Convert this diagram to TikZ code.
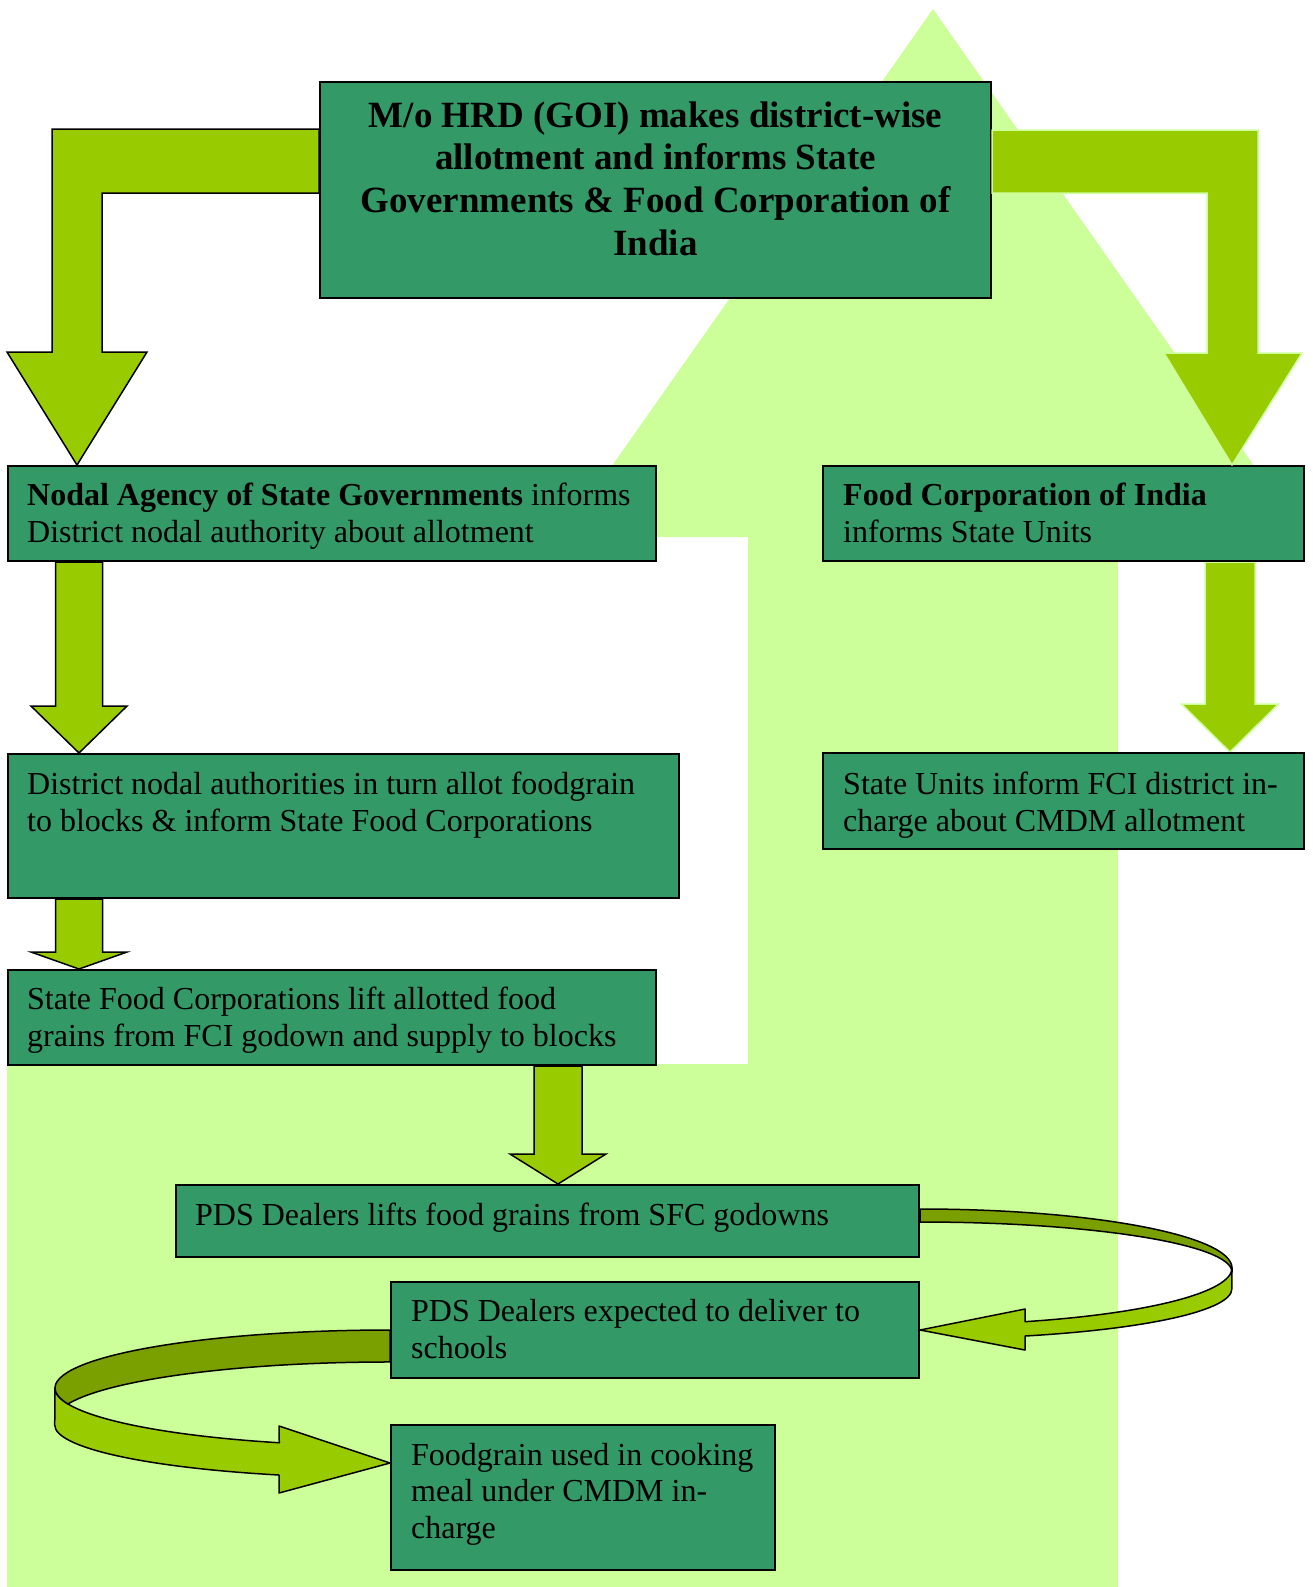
\documentclass[tikz,border=0pt]{standalone}
\usepackage{fontspec}
\setmainfont{Liberation Serif}
\usetikzlibrary{calc}
\definecolor{boxgreen}{RGB}{51,153,102}
\definecolor{bggreen}{RGB}{204,255,153}
\definecolor{arrgreen}{RGB}{153,204,0}
\definecolor{ribolive}{RGB}{122,160,0}
\pgfdeclarelayer{bglayer}
\pgfdeclarelayer{arrlayer}
\pgfsetlayers{bglayer,arrlayer,main}
% #1 style, #2 start, #3 tip, #4 shaft half width, #5 head half width, #6 head length
\newcommand\blockarrow[6]{%
  \path[#1] let \p1=#2, \p2=#3 in
    (\x2-#4pt,\y1) -- (\x2+#4pt,\y1) -- (\x2+#4pt,\y2+#6pt) -- (\x2+#5pt,\y2+#6pt)
    -- (\x2,\y2) -- (\x2-#5pt,\y2+#6pt) -- (\x2-#4pt,\y2+#6pt) -- cycle;}
\begin{document}
\begin{tikzpicture}[x=1pt,y=1pt,
  box/.style={draw=black,line width=2pt,fill=boxgreen,rectangle,inner sep=0pt,anchor=north west},
  txt/.style={anchor=north west,inner sep=0pt,align=left,font=\fontsize{32}{36.5}\selectfont},
  ttl/.style={anchor=north,inner sep=0pt,align=center,font=\fontsize{37}{42.7}\selectfont\bfseries},
  blk/.style={draw=black,line width=1.5pt,fill=arrgreen},
  lgt/.style={draw=bggreen,line width=1.5pt,fill=arrgreen},
  rib/.style={draw=black,line width=1.5pt,fill=arrgreen,line join=round},
  ribdark/.style={draw=black,line width=1.5pt,fill=ribolive,line join=round}]
\useasboundingbox (0,0) rectangle (1313,-1587);

\begin{pgfonlayer}{bglayer}
\fill[bggreen] (7,-1587) -- (7,-1064) -- (748,-1064) -- (748,-537) -- (562,-537)
  -- (933,-9) -- (1304,-537) -- (1118,-537) -- (1118,-1587) -- cycle;
\end{pgfonlayer}

% boxes
\node[box,minimum width=671pt,minimum height=216pt] (top) at (319,-81) {};
\node[box,minimum width=648pt,minimum height=95pt] (nodal) at (7,-465) {};
\node[box,minimum width=481pt,minimum height=95pt] (fci) at (822,-465) {};
\node[box,minimum width=671pt,minimum height=144pt] (district) at (7,-753) {};
\node[box,minimum width=481pt,minimum height=96pt] (su) at (822,-752) {};
\node[box,minimum width=648pt,minimum height=95pt] (sfc) at (7,-969) {};
\node[box,minimum width=743pt,minimum height=72pt] (pds1) at (175,-1184) {};
\node[box,minimum width=528pt,minimum height=96pt] (pds2) at (390,-1281) {};
\node[box,minimum width=384pt,minimum height=145pt] (food) at (390,-1424) {};

\begin{pgfonlayer}{arrlayer}
% left bent arrow
\path[blk] let \p1=(top.north west), \p2=($(nodal.north west)+(70,0)$) in
  (\x1,\y1-48pt) -- (\x2-25pt,\y1-48pt) -- (\x2-25pt,\y2+113pt) -- (\x2-70pt,\y2+113pt)
  -- (\x2,\y2) -- (\x2+70pt,\y2+113pt) -- (\x2+25pt,\y2+113pt) -- (\x2+25pt,\y1-112pt)
  -- (\x1,\y1-112pt) -- cycle;
% straight block arrows
\blockarrow{blk}{(nodal.south)}{($(district.north west)+(72,0)$)}{23.5}{48}{47}
\blockarrow{blk}{(district.south)}{($(sfc.north west)+(72,0)$)}{23.5}{48}{17}
\blockarrow{lgt}{(fci.south)}{($(su.north west)+(408,0)$)}{25}{48.5}{48}
\blockarrow{blk}{(sfc.south)}{($(pds1.north west)+(383,0)$)}{24}{48}{30}
% right ribbon (pds1 -> pds2)
\draw[rib] ($(pds1.north east)+(312,-84)$) arc[start angle=0,end angle=-70.3,x radius=312,y radius=57]
  -- ($(pds2.east)+(105,21)$) -- (pds2.east) -- ($(pds2.east)+(105,-20)$)
  -- ($(pds2.east)+(105,-6)$) arc[start angle=-70.3,end angle=0,x radius=312,y radius=50] -- cycle;
\draw[ribdark] ($(pds1.north east)+(0,-25)$) arc[start angle=90,end angle=0,x radius=312,y radius=59]
  -- ++(0,-4) arc[start angle=0,end angle=90,x radius=312,y radius=50] -- cycle;
% left ribbon (pds2 -> food)
\draw[rib] ($(pds2.west)+(-335,-58)$) arc[start angle=180,end angle=250.7,x radius=335,y radius=58]
  -- ($(food.north west)+(-111,-2)$) -- ($(food.north west)+(0,-39)$) -- ($(food.north west)+(-111,-69)$)
  -- ($(food.north west)+(-111,-51)$) arc[start angle=250.7,end angle=180,x radius=335,y radius=53] -- cycle;
\draw[ribdark] (pds2.west) arc[start angle=90,end angle=196,x radius=335,y radius=58]
  arc[start angle=164,end angle=90,x radius=335,y radius=58] -- cycle;
\end{pgfonlayer}

% right bent arrow (over the top box)
\path[lgt] let \p1=(top.north east), \p2=($(fci.north west)+(410,0)$) in
  (\x1,\y1-49pt) -- (\x2+26pt,\y1-49pt) -- (\x2+26pt,\y2+112pt) -- (\x2+70pt,\y2+112pt)
  -- (\x2,\y2) -- (\x2-68pt,\y2+112pt) -- (\x2-25pt,\y2+112pt) -- (\x2-25pt,\y1-112pt)
  -- (\x1,\y1-112pt) -- cycle;

% texts
\node[ttl] (ttop) at ($(top.north)+(0,-16)$) {\strut M/o HRD (GOI) makes district-wise\\allotment and informs State\\Governments \& Food Corporation of\\India};
\node[txt] (tnodal) at ($(nodal.north west)+(20,-15)$) {\strut\textbf{Nodal Agency of State Governments} informs\\District nodal authority about allotment};
\node[txt] (tfci) at ($(fci.north west)+(21,-15)$) {\strut\textbf{Food Corporation of India}\\informs State Units};
\node[txt] (tdistrict) at ($(district.north west)+(20,-16)$) {\strut District nodal authorities in turn allot foodgrain\\to blocks \& inform State Food Corporations};
\node[txt] (tsu) at ($(su.north west)+(21,-17)$) {\strut State Units inform FCI district in-\\charge about CMDM allotment};
\node[txt] (tsfc) at ($(sfc.north west)+(20,-15)$) {\strut State Food Corporations lift allotted food\\grains from FCI godown and supply to blocks};
\node[txt] (tpds1) at ($(pds1.north west)+(20,-15.5)$) {\strut PDS Dealers lifts food grains from SFC godowns};
\node[txt] (tpds2) at ($(pds2.north west)+(21,-15)$) {\strut PDS Dealers expected to deliver to\\schools};
\node[txt] (tfood) at ($(food.north west)+(21,-15.5)$) {\strut Foodgrain used in cooking\\meal under CMDM in-\\charge};
\end{tikzpicture}
\end{document}
